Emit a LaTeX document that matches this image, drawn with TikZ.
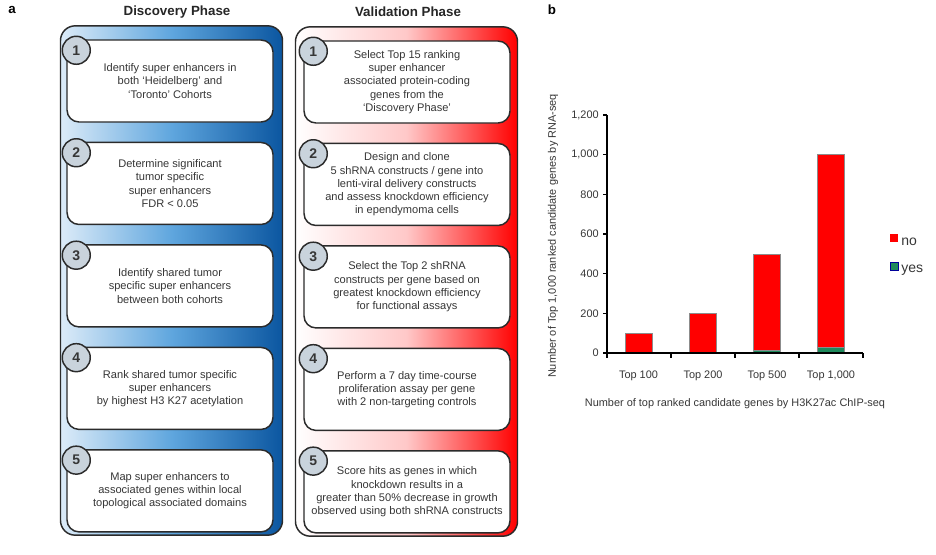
\documentclass[tikz,border=0pt]{standalone}
\usepackage{fontspec}
\setmainfont{Liberation Sans}
\usetikzlibrary{positioning}

\definecolor{txtgray}{HTML}{363636}
\definecolor{lineg}{HTML}{2B2B2B}
\definecolor{bluelight}{HTML}{DCEBF8}
\definecolor{bluemid}{HTML}{5FA6DE}
\definecolor{bluedark}{HTML}{0B56A0}
\definecolor{redpale}{HTML}{FFC8C8}
\definecolor{circfill}{HTML}{C9D3DC}
\definecolor{barred}{HTML}{FF0000}
\definecolor{bargreen}{HTML}{1E8A5C}
\definecolor{bargray}{HTML}{8C8C8C}

\begin{document}
\begin{tikzpicture}
[x=0.75pt, y=-0.75pt,
    every node/.style={text=txtgray, font=\fontsize{8.3}{9.9}\selectfont},
    phasetitle/.style={font=\bfseries\fontsize{10}{12}\selectfont, text=black!85},
    panellabel/.style={font=\bfseries\fontsize{10}{12}\selectfont, text=black},
    panel/.style={draw=lineg, line width=1.1pt, rounded corners=11pt,
        minimum width=166.5pt, minimum height=382pt, inner sep=0pt},
    discpanel/.style={panel, left color=bluelight, right color=bluedark, middle color=bluemid},
    valpanel/.style={panel, left color=white, right color=barred, middle color=redpale},
    stepbox/.style={draw=lineg, fill=white, line width=1.1pt, rounded corners=9pt,
        minimum width=154.5pt, minimum height=61.5pt, align=center, inner sep=2pt},
    stepnum/.style={circle, draw=lineg, fill=circfill, line width=1.1pt,
        minimum size=21pt, inner sep=0pt, font=\bfseries\fontsize{10.5}{12}\selectfont},
    ticklab/.style={font=\fontsize{8.2}{9.8}\selectfont, inner sep=0pt},
    axis/.style={draw=black, line width=0.9pt},
    bar/.style={draw=bargray, line width=0.4pt},
    legsq/.style={minimum size=6pt, inner sep=0pt},
    legtext/.style={font=\fontsize{10.5}{12}\selectfont, anchor=base west, inner sep=0pt},
    node distance=14.25pt]

\useasboundingbox (0,0) rectangle (936,554);

\node[panellabel] (la) at (12,10) {a};
\node[panellabel] (lb) at (552,10) {b};

\node[phasetitle] (disctitle) at (177,12) {Discovery Phase};
\node[phasetitle] (valtitle) at (408,12) {Validation Phase};

\node[discpanel] (disc) at (171.5,280.5) {};
\node[valpanel] (val) at (406.5,281.5) {};

% discovery phase
\node[stepbox] (d1) at (170,81) {Identify super enhancers in\\both `Heidelberg' and\\`Toronto' Cohorts};
\node[stepbox, below=of d1] (d2) {Determine significant\\tumor specific\\super enhancers\\FDR < 0.05};
\node[stepbox, below=of d2] (d3) {Identify shared tumor\\specific super enhancers\\between both cohorts};
\node[stepbox, below=of d3] (d4) {Rank shared tumor specific\\super enhancers\\by highest H3 K27 acetylation};
\node[stepbox, below=of d4] (d5) {Map super enhancers to\\associated genes within local\\topological associated domains};

\node[stepnum] (dn1) at ([shift={(10,11)}]d1.north west) {1};
\node[stepnum] (dn2) at ([shift={(10,11)}]d2.north west) {2};
\node[stepnum] (dn3) at ([shift={(10,11)}]d3.north west) {3};
\node[stepnum] (dn4) at ([shift={(10,11)}]d4.north west) {4};
\node[stepnum] (dn5) at ([shift={(10,11)}]d5.north west) {5};

% validation phase
\node[stepbox] (v1) at (407,82) {Select Top 15 ranking\\super enhancer\\associated protein-coding\\genes from the\\`Discovery Phase'};
\node[stepbox, below=of v1] (v2) {Design and clone\\5 shRNA constructs / gene into\\lenti-viral delivery constructs\\and assess knockdown efficiency\\in ependymoma cells};
\node[stepbox, below=of v2] (v3) {Select the Top 2 shRNA\\constructs per gene based on\\greatest knockdown efficiency\\for functional assays};
\node[stepbox, below=of v3] (v4) {Perform a 7 day time-course\\proliferation assay per gene\\with 2 non-targeting controls};
\node[stepbox, below=of v4] (v5) {Score hits as genes in which\\knockdown results in a\\greater than 50\% decrease in growth\\observed using both shRNA constructs};

\node[stepnum] (vn1) at ([shift={(10,11)}]v1.north west) {1};
\node[stepnum] (vn2) at ([shift={(10,11)}]v2.north west) {2};
\node[stepnum] (vn3) at ([shift={(10,11)}]v3.north west) {3};
\node[stepnum] (vn4) at ([shift={(10,11)}]v4.north west) {4};
\node[stepnum] (vn5) at ([shift={(10,11)}]v5.north west) {5};

% bar chart
\begin{scope}[shift={(607,353)}, y=0.14875pt]
    \draw[bar, fill=barred] (18.5,0) rectangle (45.5,100);
    \draw[bar, fill=barred] (82.5,0) rectangle (109.5,200);
    \draw[bar, fill=barred] (146.5,0) rectangle (173.5,500);
    \draw[bar, fill=barred] (210.5,0) rectangle (237.5,1000);
    \draw[bar, fill=bargreen] (146.5,0) rectangle (173.5,12);
    \draw[bar, fill=bargreen] (210.5,0) rectangle (237.5,27);
    \draw[axis] (0,1200) -- (0,0) -- (256,0);
    \foreach \v/\lab in {0/0, 200/200, 400/400, 600/600, 800/800, 1000/{1,000}, 1200/{1,200}} {
        \draw[axis] (-4,\v) -- (0,\v);
        \node[ticklab, anchor=east] (yt\v) at (-8,\v) {\lab};
    }
    \foreach \x in {0,64,128,192,256}
        \draw[axis] (\x,0) -- ++(0,-3.5pt);
\end{scope}

\node[ticklab] (c1) at (638.5,376) {Top 100};
\node[ticklab] (c2) at (703,376) {Top 200};
\node[ticklab] (c3) at (767,376) {Top 500};
\node[ticklab] (c4) at (831,376) {Top 1,000};

\node[ticklab] (xtitle) at (735,404) {Number of top ranked candidate genes by H3K27ac ChIP-seq};
\node[ticklab, rotate=90] (ytitle) at (553,236) {Number of Top 1,000 ranked candidate genes by RNA-seq};

\node[legsq, fill=barred] (sqno) at (894,238) {};
\node[legsq, fill=bargreen, draw=blue!60!black, line width=0.4pt] (sqyes) at (894,266) {};
\node[legtext] (legno) at (901,245) {no};
\node[legtext] (legyes) at (901,272) {yes};
\end{tikzpicture}
\end{document}
